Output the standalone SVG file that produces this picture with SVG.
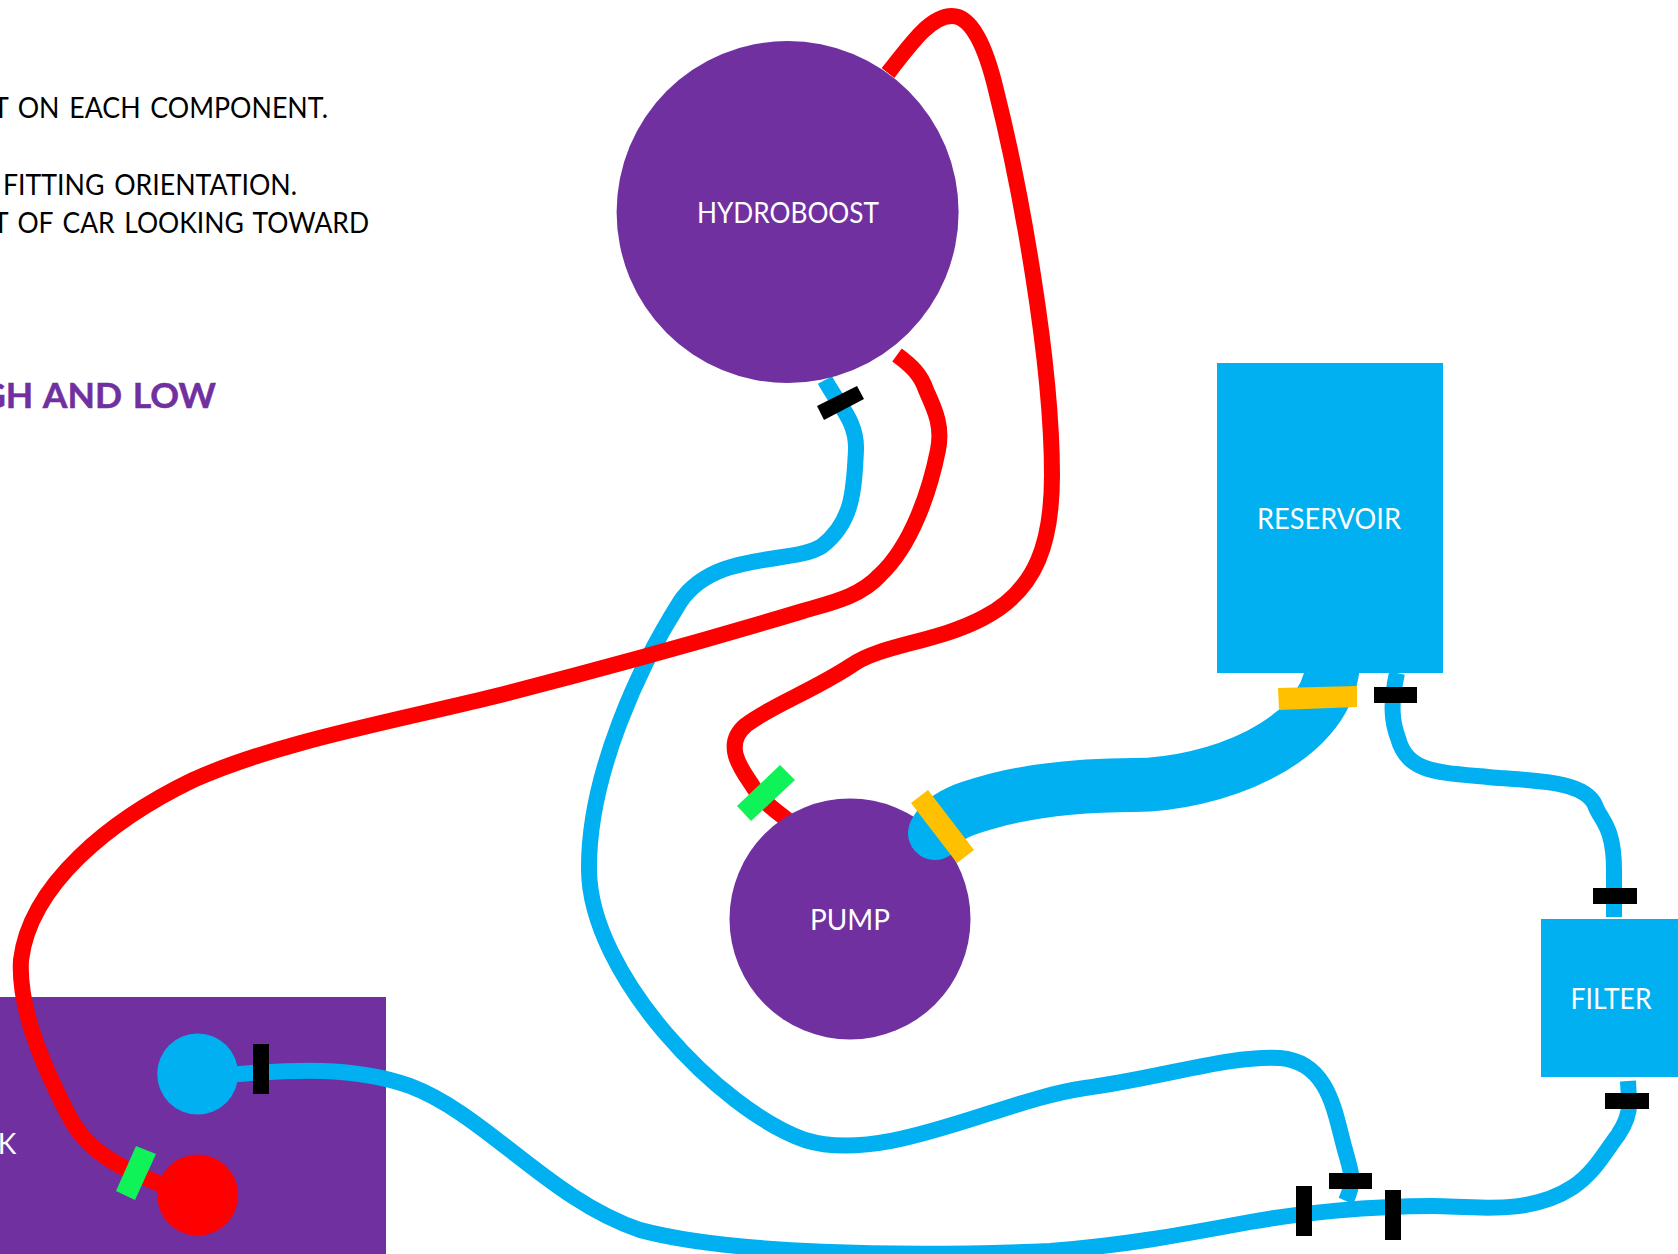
<svg xmlns="http://www.w3.org/2000/svg" width="1678" height="1254" viewBox="0 0 1678 1254">
<style>
.note{font-family:Lato,"Liberation Sans",sans-serif;font-size:28px;fill:#000;word-spacing:3px}
.head{font-family:Lato,"Liberation Sans",sans-serif;font-size:35px;font-weight:700;fill:#7030a0;stroke:#7030a0;stroke-width:.5;word-spacing:2px}
.label{font-family:Lato,"Liberation Sans",sans-serif;font-size:28px;fill:#fff;text-anchor:middle}
.pipe{fill:none;stroke-width:16}
.blue{stroke:#00b0f0}
.red{stroke:#ff0000}
.blk{fill:#000}
.ylw{fill:#ffc000}
.grn{fill:#10f358}
</style>
<rect width="1678" height="1254" fill="#fff"/>
<g id="notes">
<text class="note" x="-7" y="118" textLength="335" lengthAdjust="spacingAndGlyphs">T ON EACH COMPONENT.</text>
<text class="note" x="3" y="195" textLength="294" lengthAdjust="spacingAndGlyphs">FITTING ORIENTATION.</text>
<text class="note" x="-7" y="233" textLength="376" lengthAdjust="spacingAndGlyphs">T OF CAR LOOKING TOWARD</text>
<text class="head" x="-20" y="408" textLength="236" lengthAdjust="spacingAndGlyphs">GH AND LOW</text>
</g>
<g id="tank">
<rect x="-2" y="997" width="388" height="259" fill="#7030a0"/>
<text class="label" x="7" y="1154">K</text>
<circle cx="197.7" cy="1074" r="40.5" fill="#00b0f0"/>
<circle cx="197.7" cy="1195" r="40.5" fill="#ff0000"/>
</g>
<g id="connectors">
<path class="pipe red" d="M 888 73 C 915 38 932 16 952 16 C 972 16 986 48 996 90 C 1020 185 1052 360 1052 475 C 1052 540 1038 590 983 618 C 938 642 880 645 852 665 C 811 692 772 705 746 725 C 722 745 742 770 752 785 C 762 802 775 810 790 822"/>
<path class="pipe blue" d="M 825 380 C 838 405 857 420 856 450 C 854 490 853 522 822 546 C 793 565 715 550 680 602 C 640 665 588 775 589 870 C 590 975 720 1110 805 1140 C 885 1165 1000 1100 1085 1088 C 1160 1078 1230 1055 1280 1058 C 1330 1062 1335 1115 1345 1150 C 1352 1175 1355 1180 1346 1201"/>
<path class="pipe red" d="M 897 355 C 912 366 921 375 926 390 C 934 408 943 425 938 450 C 930 490 912 545 880 575 C 860 597 830 603 803 611 C 700 642 590 672 492 697 C 390 722 275 743 193 780 C 110 820 30 885 21 960 C 18 1010 45 1070 70 1118 C 90 1155 125 1170 170 1188"/>
<path class="pipe blue" d="M 225 1075 C 280 1071 350 1064 410 1086 C 485 1114 550 1200 640 1230 C 730 1254 900 1257 1050 1251 C 1120 1246 1180 1235 1250 1222 C 1300 1213 1370 1206 1433 1206 C 1480 1207 1530 1215 1573 1187 C 1595 1172 1605 1152 1618 1135 C 1628 1120 1630 1110 1629 1100 L 1628 1081"/>
<path class="pipe blue" d="M 1397 673 C 1390 705 1392 722 1398 738 C 1408 775 1440 772 1500 778 C 1540 781 1585 782 1595 805 C 1600 820 1614 825 1614 870 L 1614 917"/>
</g>
<g id="hydroboost">
<circle cx="787.6" cy="212" r="171" fill="#7030a0"/>
<text class="label" x="788" y="223" textLength="182" lengthAdjust="spacingAndGlyphs">HYDROBOOST</text>
</g>
<g id="pump">
<circle cx="850" cy="919" r="120.5" fill="#7030a0"/>
<text class="label" x="850" y="930" textLength="80" lengthAdjust="spacingAndGlyphs">PUMP</text>
</g>
<g id="reservoir">
<rect x="1217" y="363" width="226" height="310" fill="#00b0f0"/>
<text class="label" x="1329" y="529" textLength="144" lengthAdjust="spacingAndGlyphs">RESERVOIR</text>
</g>
<g id="filter">
<rect x="1541" y="919" width="139" height="158" fill="#00b0f0"/>
<text class="label" x="1611" y="1009" textLength="81" lengthAdjust="spacingAndGlyphs">FILTER</text>
</g>
<g id="pressure-line">
<path class="blue" fill="none" stroke-width="54" stroke-linecap="round" d="M 935 833 C 945 812 975 806 1000 799 C 1050 787 1100 785 1134 785 C 1210 785 1325 745 1333 665"/>
</g>
<g id="reservoir-patch">
<rect x="1217" y="640" width="226" height="33" fill="#00b0f0"/>
</g>
<g id="clamps">
<polygon class="ylw" points="1278,688 1357,686 1357,707 1279,710"/>
<polygon class="ylw" points="911,803 928,790 974,850 957,863"/>
<polygon class="grn" points="737,806 780,765 795,780 751,821"/>
<polygon class="grn" points="136,1146 156,1154 135,1200 116,1191"/>
<polygon class="blk" points="857,386 864,399 824,420 817,406"/>
<rect class="blk" x="1374" y="687" width="43" height="16"/>
<rect class="blk" x="1593" y="888" width="44" height="16"/>
<rect class="blk" x="1605" y="1093" width="44" height="16"/>
<rect class="blk" x="1296" y="1186" width="16" height="50"/>
<rect class="blk" x="1385" y="1190" width="16" height="50"/>
<rect class="blk" x="1329" y="1173" width="43" height="16"/>
<rect class="blk" x="253" y="1044" width="16" height="50"/>
</g>
</svg>
